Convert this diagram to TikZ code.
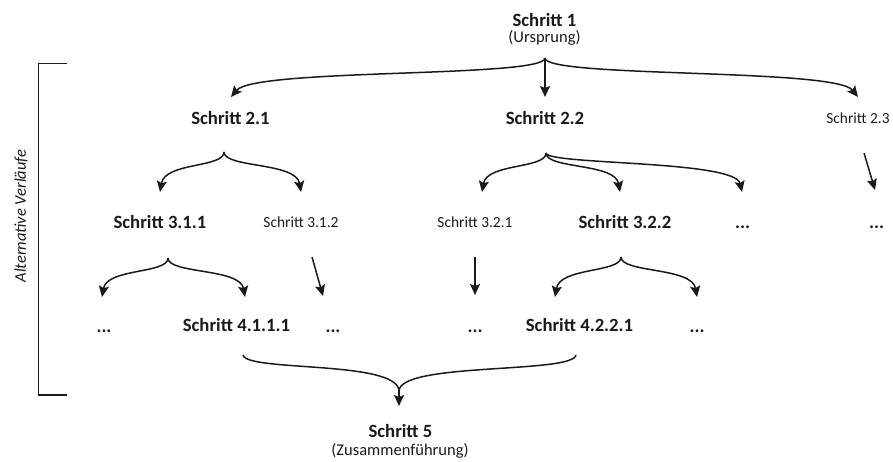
\documentclass[tikz,border=0pt]{standalone}
\usepackage{fontspec}
\setmainfont{Carlito}
\usetikzlibrary{arrows.meta}
\definecolor{ink}{HTML}{1A1A1A}
\tikzset{
  boldtxt/.style={font=\fontsize{18.7}{22}\selectfont\bfseries, anchor=base, inner sep=0pt, text=ink},
  smalltxt/.style={font=\fontsize{15.4}{18}\selectfont, anchor=base, inner sep=0pt, text=ink},
  parentxt/.style={font=\fontsize{16.5}{19}\selectfont, anchor=base, inner sep=0pt, text=ink},
  conn/.style={draw=ink, line width=1.5pt, -{Stealth[length=11pt,width=10pt,inset=2pt]}},
  plainline/.style={draw=ink, line width=1.5pt},
}
\begin{document}
\begin{tikzpicture}[x=1pt,y=-1pt]
\useasboundingbox (0,0) rectangle (893,462);

% texts
\node[boldtxt] (s1) at (544.5,26.5) {Schritt 1};
\node[parentxt] (u1) at (544.5,43) {(Ursprung)};
\node[boldtxt] (s21) at (230.5,124.5) {Schritt 2.1};
\node[boldtxt] (s22) at (545,124.5) {Schritt 2.2};
\node[smalltxt] (s23) at (858,123.5) {Schritt 2.3};
\node[boldtxt] (s311) at (160,228.5) {Schritt 3.1.1};
\node[smalltxt] (s312) at (301,227.5) {Schritt 3.1.2};
\node[smalltxt] (s321) at (475,227.5) {Schritt 3.2.1};
\node[boldtxt] (s322) at (625,228.5) {Schritt 3.2.2};
\node[boldtxt] (d32) at (742.5,228.5) {...};
\node[boldtxt] (d23) at (876.5,228.5) {...};
\node[boldtxt] (d41a) at (104,332) {...};
\node[boldtxt] (s4111) at (236.5,331) {Schritt 4.1.1.1};
\node[boldtxt] (d41b) at (333,332) {...};
\node[boldtxt] (d42a) at (475,332) {...};
\node[boldtxt] (s4221) at (579.5,331) {Schritt 4.2.2.1};
\node[boldtxt] (d42b) at (697,332) {...};
\node[boldtxt] (s5) at (400.5,437) {Schritt 5};
\node[parentxt] (z5) at (400,455) {(Zusammenführung)};

% side bracket
\node[rotate=90, font=\fontsize{16.5}{19}\selectfont\itshape, text=ink, inner sep=0pt] (alt) at (21,216) {Alternative Verläufe};
\draw[plainline] (67,63.5) -- (38.5,63.5) -- (38.5,395) -- (67,395);

% coordinates
\coordinate (c1) at (545,58);
\coordinate (t21) at (231,97);
\coordinate (t22) at (545,97);
\coordinate (t23) at (858,97);
\coordinate (c21) at (224,152);
\coordinate (t311) at (160,192);
\coordinate (t312) at (301,192);
\coordinate (c22) at (546,153);
\coordinate (t321) at (482,192);
\coordinate (t322) at (620,192);
\coordinate (t32d) at (742,192);
\coordinate (a23s) at (864,153);
\coordinate (a23e) at (875,190);
\coordinate (c311) at (168,258);
\coordinate (t41a) at (102,297);
\coordinate (t41r) at (245,297);
\coordinate (a312s) at (312,257);
\coordinate (a312e) at (323,296);
\coordinate (a321s) at (475,257);
\coordinate (a321e) at (475,295);
\coordinate (c322) at (621,257);
\coordinate (t42l) at (555,297);
\coordinate (t42r) at (697,297);
\coordinate (m1) at (243,355);
\coordinate (m2) at (576,355);
\coordinate (j5) at (399,391);
\coordinate (j5s) at (399,390);
\coordinate (t5) at (399,406);

% level 1 -> 2
\draw[conn] (c1) .. controls (545,78) and (255,68) .. (t21);
\draw[conn] (c1) -- (t22);
\draw[conn] (c1) .. controls (545,78) and (835,68) .. (t23);

% level 2 -> 3
\draw[conn] (c21) .. controls (224,168) and (165,162) .. (t311);
\draw[conn] (c21) .. controls (224,168) and (296,162) .. (t312);
\draw[conn] (c22) .. controls (546,169) and (487,163) .. (t321);
\draw[conn] (c22) .. controls (546,169) and (615,163) .. (t322);
\draw[conn] (c22) .. controls (546,165) and (735,160) .. (t32d);
\draw[conn] (a23s) -- (a23e);

% level 3 -> 4
\draw[conn] (c311) .. controls (168,274) and (107,268) .. (t41a);
\draw[conn] (c311) .. controls (168,274) and (240,268) .. (t41r);
\draw[conn] (a312s) -- (a312e);
\draw[conn] (a321s) -- (a321e);
\draw[conn] (c322) .. controls (621,273) and (560,267) .. (t42l);
\draw[conn] (c322) .. controls (621,273) and (692,267) .. (t42r);

% merge
\draw[plainline] (m1) .. controls (246,372) and (398,360) .. (j5);
\draw[plainline] (m2) .. controls (573,374) and (400,362) .. (j5);
\draw[conn] (j5s) -- (t5);
\end{tikzpicture}
\end{document}
